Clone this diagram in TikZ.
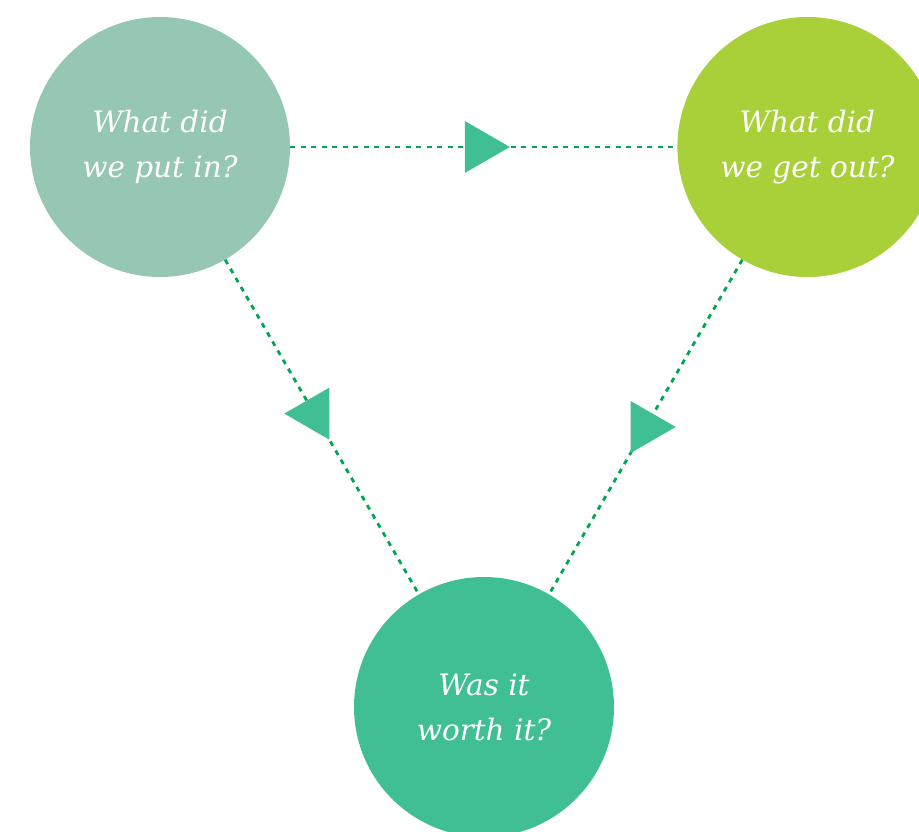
\documentclass[tikz,border=0pt]{standalone}
\usepackage{fontspec}
\setmainfont{DejaVu Serif}
\definecolor{putgreen}{RGB}{150,199,179}
\definecolor{getgreen}{RGB}{169,208,56}
\definecolor{worthgreen}{RGB}{64,191,149}
\definecolor{dotgreen}{RGB}{0,166,81}
\usetikzlibrary{positioning}
\usetikzlibrary{shapes.geometric}
\tikzset{
  question/.style={circle, minimum size=260pt, inner sep=0pt, align=center,
    text=white, font=\itshape\fontsize{29.5}{45}\selectfont},
  flow/.style={draw=dotgreen, line width=2.8pt, dash pattern=on 5pt off 5.5pt},
  marker/.style={regular polygon, regular polygon sides=3, minimum size=60pt,
    inner sep=0pt, fill=worthgreen}
}
\begin{document}
\begin{tikzpicture}[x=1pt, y=-1pt]
  \useasboundingbox (0,0) rectangle (919,832);

  \node [question, fill=putgreen] (putin) at (160,147) {What did\\we put in?};
  \node [question, fill=getgreen, right=387pt of putin] (getout) {What did\\we get out?};
  \node [question, fill=worthgreen] (worth) at (484,707) {Was it\\worth it?};

  \draw [flow] (putin) -- node [marker, rotate=-90, pos=0.49] {} (getout);
  \draw [flow] (putin) -- node [marker, rotate=90, pos=0.46] {} (worth);
  \draw [flow] (getout) -- node [marker, rotate=-90, pos=0.5] {} (worth);

\end{tikzpicture}
\end{document}
